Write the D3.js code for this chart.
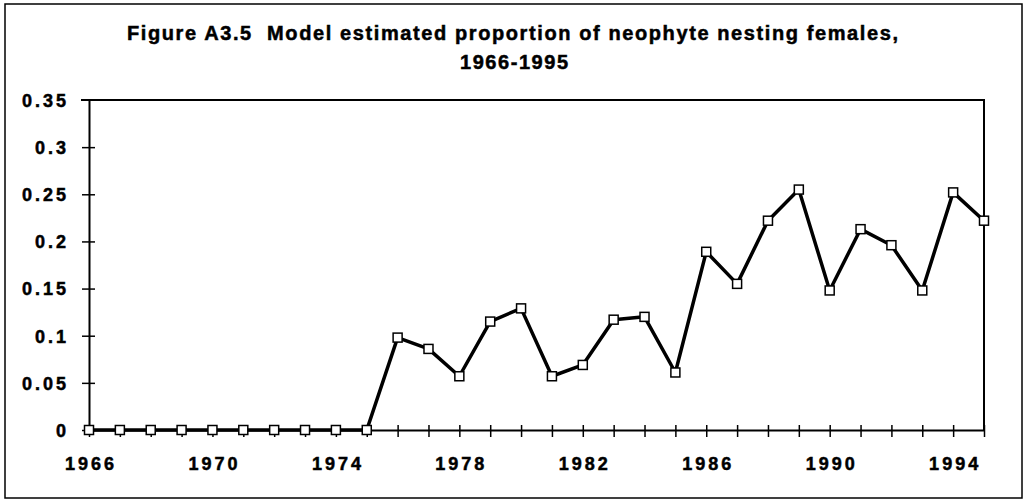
<!DOCTYPE html>
<html>
<head>
<meta charset="utf-8">
<script src="https://cdn.jsdelivr.net/npm/d3@7"></script>
<style>
  body { margin: 0; background: #fff; }
  svg { display: block; font-family: "Liberation Sans", Arial, sans-serif; }
  text { white-space: pre; }
</style>
</head>
<body>
<svg id="chart" width="1028" height="502"></svg>
<script>
// data
const years = d3.range(1966, 1996);
const proportions = [
    0, 0, 0, 0, 0, 0, 0, 0, 0, 0,            // 1966-1975
    0.098, 0.086, 0.057, 0.115, 0.129,       // 1976-1980
    0.057, 0.069, 0.117, 0.120, 0.061,       // 1981-1985
    0.189, 0.155, 0.222, 0.255, 0.148,       // 1986-1990
    0.213, 0.196, 0.148, 0.252, 0.222        // 1991-1995
];
const yTicks = [0, 0.05, 0.1, 0.15, 0.2, 0.25, 0.3, 0.35];
const xLabelYears = [1966, 1970, 1974, 1978, 1982, 1986, 1990, 1994];
const titleLines = [
    "Figure A3.5  Model estimated proportion of neophyte nesting females,",
    "1966-1995"
];

const plot = { left: 89, right: 984, top: 100, bottom: 430 };

const svg = d3.select('#chart');

// outer frame
svg.append('rect')
    .attr('x', 5).attr('y', 4)
    .attr('width', 1017).attr('height', 494)
    .attr('fill', 'none').attr('stroke', '#000').attr('stroke-width', 1.5);

// title (thin stroke mimics the heavy scanned type)
svg.append('text')
    .attr('x', 127).attr('y', 40)
    .attr('textLength', 771).attr('lengthAdjust', 'spacing')
    .style('font-size', '20px').style('font-weight', 'bold')
    .attr('stroke', '#000').attr('stroke-width', 0.5)
    .text(titleLines[0]);
svg.append('text')
    .attr('x', 460).attr('y', 69)
    .attr('textLength', 108).attr('lengthAdjust', 'spacing')
    .style('font-size', '20px').style('font-weight', 'bold')
    .attr('stroke', '#000').attr('stroke-width', 0.5)
    .text(titleLines[1]);

const x = d3.scaleLinear().domain([1966, 1995]).range([plot.left, plot.right]);
const y = d3.scaleLinear().domain([0, 0.35]).range([plot.bottom, plot.top]);

// plot border (top and right)
svg.append('path')
    .attr('d', `M${plot.left - 8},${plot.top}H${plot.right}V${plot.bottom}`)
    .attr('fill', 'none').attr('stroke', '#000').attr('stroke-width', 2);

// y axis
const yAxis = svg.append('g')
    .attr('transform', `translate(${plot.left},0)`)
    .call(d3.axisLeft(y).tickValues(yTicks).tickSize(6).tickSizeOuter(0)
        .tickFormat(d => d === 0 ? '0' : String(+d.toFixed(2))));
yAxis.select('.domain').attr('stroke-width', 2);
yAxis.selectAll('.tick line').attr('x1', -7).attr('x2', 6).attr('stroke-width', 1.5);
yAxis.selectAll('.tick text')
    .attr('x', -20).attr('dy', '0.35em')
    .style('font-size', '18px').style('font-weight', 'bold')
    .style('letter-spacing', '3px').attr('fill', '#000')
    .attr('stroke', '#000').attr('stroke-width', 0.5);
yAxis.selectAll('.tick').filter(d => d === 0.35).select('line').remove();

// x axis
const xAxis = svg.append('g')
    .attr('transform', `translate(0,${plot.bottom})`)
    .call(d3.axisBottom(x).tickValues(years).tickSize(7).tickSizeOuter(0)
        .tickFormat(d => xLabelYears.includes(d) ? String(d) : ''));
xAxis.select('.domain').attr('stroke-width', 2);
xAxis.selectAll('.tick line').attr('y1', -5).attr('y2', 7).attr('stroke-width', 1.5);
xAxis.selectAll('.tick text')
    .attr('y', 27).attr('dx', '1.5px')
    .style('font-size', '18px').style('font-weight', 'bold')
    .style('letter-spacing', '3px').attr('fill', '#000')
    .attr('stroke', '#000').attr('stroke-width', 0.5);

// series
const points = years.map((yr, i) => ({ year: yr, value: proportions[i] }));

svg.append('path')
    .datum(points)
    .attr('d', d3.line().x(d => x(d.year)).y(d => y(d.value)))
    .attr('fill', 'none').attr('stroke', '#000').attr('stroke-width', 3.5)
    .attr('stroke-linejoin', 'round');

svg.append('g')
    .selectAll('rect')
    .data(points)
    .join('rect')
    .attr('x', d => x(d.year) - 4.5)
    .attr('y', d => y(d.value) - 4.5)
    .attr('width', 9).attr('height', 9)
    .attr('fill', '#fff').attr('stroke', '#000').attr('stroke-width', 1.5);
</script>
</body>
</html>
